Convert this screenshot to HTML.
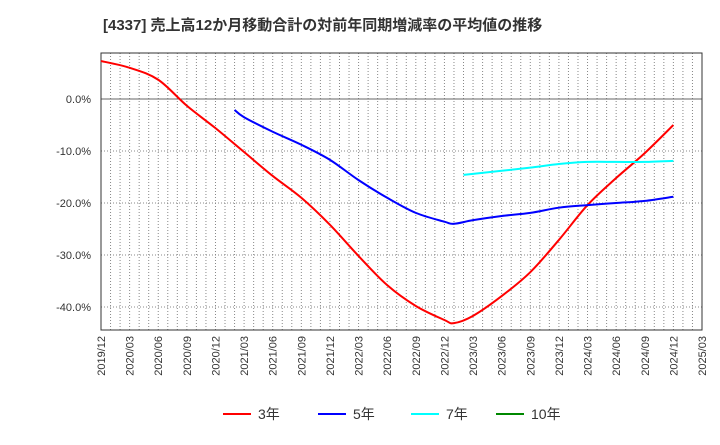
<!DOCTYPE html>
<html><head><meta charset="utf-8"><style>
body{margin:0;background:#fff;font-family:"Liberation Sans","Noto Sans CJK JP",sans-serif}
svg text{font-family:"Liberation Sans","Noto Sans CJK JP",sans-serif}
</style></head><body>
<svg id="c" width="720" height="440">
<text x="103" y="30" font-size="15" font-weight="bold" fill="#333">[4337]  売上高12か月移動合計の対前年同期増減率の平均値の推移</text>
<g id="grid"></g><g id="axes"></g><g id="series"></g><g id="legend"></g>
</svg>
<script>
const xTickLabels=["2019/12","2020/03","2020/06","2020/09","2020/12","2021/03","2021/06","2021/09","2021/12","2022/03","2022/06","2022/09","2022/12","2023/03","2023/06","2023/09","2023/12","2024/03","2024/06","2024/09","2024/12","2025/03"];
const yTicks=[0,-10,-20,-30,-40];
const m3=[0,3,6,9,12,15,18,21,24,27,30,33,36,37,39,42,45,48,51,54,57,60];
const v3=[7.3,6.0,3.7,-1.3,-5.6,-10.2,-14.8,-19,-24.2,-30.2,-35.8,-39.8,-42.5,-43.1,-41.7,-37.9,-33.3,-27.1,-20.4,-15.2,-10.4,-5.0];
const m5=[14,15,18,21,24,27,30,33,36,37,39,42,45,48,51,54,57,60];
const v5=[-2.1,-3.5,-6.3,-8.8,-11.7,-15.6,-19,-21.9,-23.6,-24,-23.3,-22.5,-21.9,-20.9,-20.4,-20,-19.6,-18.8];
const m7=[38,39,42,45,48,51,54,57,60];
const v7=[-14.6,-14.4,-13.8,-13.2,-12.5,-12.1,-12.1,-12.1,-11.9];
const L=101,R=702,T=53,B=330,NM=63;
const X=m=>L+(R-L)*m/NM;
const Y=v=>99-5.2*v;
const ns="http://www.w3.org/2000/svg";
function mk(t,a,p){const e=document.createElementNS(ns,t);for(const k in a)e.setAttribute(k,a[k]);p.appendChild(e);return e;}
const g=document.getElementById('grid'),ax=document.getElementById('axes'),s=document.getElementById('series'),lg=document.getElementById('legend');
for(let m=1;m<NM;m++){const e=mk('line',{x1:X(m),x2:X(m),y1:T,y2:B,stroke:'#888','stroke-dasharray':'1,2','stroke-width':1},g);

}
yTicks.forEach(v=>{const e=mk('line',{x1:L,x2:R,y1:Y(v),y2:Y(v),stroke:v===0?'#666':'#888','stroke-dasharray':v===0?'none':'1,2','stroke-width':1},g);


const t=mk('text',{x:91,y:Y(v)+4,'text-anchor':'end','font-size':11,fill:'#333'},ax);t.textContent=v.toFixed(1)+'%';

});
const fr=mk('rect',{x:L,y:T,width:R-L,height:B-T,fill:'none',stroke:'#333','stroke-width':1},ax);


xTickLabels.forEach((l,i)=>{const x=X(i*3)+4;const t=mk('text',{x:x,y:B+6,'text-anchor':'end','font-size':11,fill:'#333',transform:`rotate(-90 ${x} ${B+6})`},ax);t.textContent=l;

});
function path(ms,vs){const p=ms.map((m,i)=>[X(m),Y(vs[i])]);let d=`M${p[0][0]},${p[0][1]}`;
for(let i=0;i<p.length-1;i++){const a=p[Math.max(0,i-1)],b=p[i],c=p[i+1],e=p[Math.min(p.length-1,i+2)];
d+=` C${b[0]+(c[0]-a[0])/6},${b[1]+(c[1]-a[1])/6} ${c[0]-(e[0]-b[0])/6},${c[1]-(e[1]-b[1])/6} ${c[0]},${c[1]}`;}return d;}
[[m3,v3,'#f00','series-3yr'],[m5,v5,'#00f','series-5yr'],[m7,v7,'#0ff','series-7yr']].forEach(([m,v,c,n])=>{
const e=mk('path',{d:path(m,v),fill:'none',stroke:c,'stroke-width':2},s);

});
[['3年','#f00',223],['5年','#00f',318],['7年','#0ff',411],['10年','#080',496]].forEach(([l,c,x])=>{
const ln=mk('line',{x1:x,x2:x+28,y1:414,y2:414,stroke:c,'stroke-width':2},lg);


const t=mk('text',{x:x+35,y:419,'font-size':14,fill:'#333'},lg);t.textContent=l;

});
</script>
</body></html>
